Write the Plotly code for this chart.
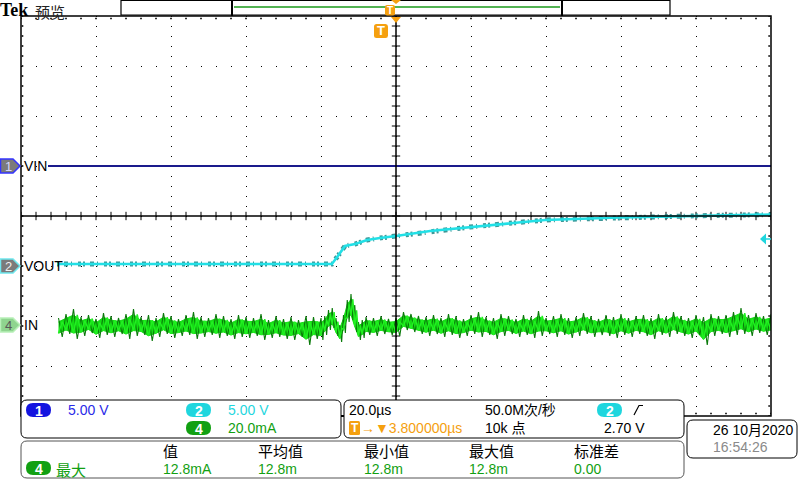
import numpy as np
import plotly.graph_objects as go

# time base in µs (20 µs/div, trigger at centre)
vin_t = [-92.8, 100.0]
vin_v = [0.0, 0.0]

vout_t = [-90.4, -17.1, -15.5, -13.6, -10.9, -7.7, -4.3, 0.0, 9.1, 19.7, 39.7, 59.7, 81.1, 100.0]
vout_v = [0.2, 0.2, 1.0, 2.0, 2.2, 2.6, 2.8, 3.0, 3.5, 3.9, 4.6, 4.85, 5.03, 5.15]

# input current (mA): upper / lower extremes of the noisy trace
in_t = [-90, -88, -86, -84, -82, -80, -78, -76, -74, -72, -70, -68, -66, -64, -62, -60, -58, -56,
        -54, -52, -50, -48, -46, -44, -42, -40, -38, -36, -34, -32, -30, -28, -26, -24, -22,
        -20, -19, -18, -17, -16, -15, -14, -13, -12, -11, -10, -9, -8,
        -6, -4, -2, 0, 2, 4, 6,
        8, 10, 12, 14, 16, 18, 20, 22, 24, 26, 28, 30, 32, 34, 36, 38, 40, 42, 44, 46, 48, 50,
        52, 54, 56, 58, 60, 62, 64, 66, 68, 70, 72, 74, 76, 78, 80, 82, 84, 86, 88, 90, 92, 94,
        96, 98, 100]
in_hi = [2.8, 4.4, 6.4, 3.2, 4.0, 2.4, 4.8, 3.6, 2.8, 4.4, 6.4, 3.2, 4.0, 2.8, 4.8, 3.6, 2.4, 4.0,
         5.2, 3.2, 2.8, 4.4, 3.6, 2.4, 4.0, 3.2, 2.8, 4.4, 2.0, 3.6, 2.4, 3.2, 2.0, 3.6, 3.2,
         2.8, 3.6, 6.0, 6.8, 2.8, 0.0, 4.0, 10.0, 12.4, 8.0, 1.2, 2.0, 3.2,
         2.8, 3.6, 2.4, 2.8, 5.2, 4.4, 3.6,
         3.2, 4.0, 2.8, 4.4, 3.6, 2.4, 4.0, 5.2, 3.2, 2.8, 4.4, 3.6, 2.4, 4.0, 3.2, 5.6, 2.8, 3.6,
         4.4, 2.8, 3.2, 4.8, 3.6, 2.4, 4.0, 3.2, 4.4, 2.8, 3.6, 4.0, 2.8, 4.4, 3.2, 5.2, 3.6, 2.8,
         4.0, 3.2, 4.4, 3.6, 4.0, 5.2, 6.8, 4.0, 4.8, 3.6, 4.4]
in_lo = [-4.8, -3.6, -5.6, -4.4, -3.2, -5.2, -4.0, -4.8, -3.6, -5.6, -4.4, -4.0, -6.4, -4.8, -3.6,
         -5.2, -4.4, -4.0, -5.6, -4.8, -4.0, -5.2, -4.4, -5.6, -4.8, -5.2, -4.4, -6.0, -5.2, -4.8,
         -5.6, -6.0, -4.8, -8.0, -5.6,
         -6.0, -4.0, -2.0, -1.2, -4.4, -6.8, -3.2, 1.2, 2.0, -2.8, -6.0, -5.2, -4.0,
         -4.4, -3.6, -4.0, -4.4, -2.0, -2.8, -3.6,
         -4.4, -3.6, -4.8, -4.0, -5.2, -4.4, -3.6, -4.8, -4.0, -5.6, -4.4, -3.6, -4.8, -4.0, -5.2,
         -4.4, -3.6, -4.8, -4.0, -5.2, -4.4, -3.6, -4.8, -4.0, -4.4, -5.2, -4.0, -4.8, -3.6, -4.4,
         -5.6, -4.0, -4.8, -3.6, -4.4, -5.2, -4.0, -8.0, -4.4, -3.6, -4.8, -4.0, -3.6, -4.4, -3.2,
         -4.0, -3.6]
assert len(in_t) == len(in_hi) == len(in_lo)

FONT = "Liberation Sans, Noto Sans CJK SC"
CJK = "Noto Sans CJK SC"
BLUE, CYAN, GREEN, ORANGE = "#1414e0", "#1fd6de", "#12a012", "#f5a00f"


def zigzag(t, hi, lo):
    xs, ys = [], []
    for i in range(len(t)):
        nxt = t[i + 1] if i + 1 < len(t) else t[i] + 1
        xs += [t[i], (t[i] + nxt) / 2]
        ys += [hi[i], lo[i]]
    return xs, ys


# pixel helpers for the screen furniture (plot area is x 21..771, y 16..416)
def px(x):
    return (x - 21) / 750


def py(y):
    return (416 - y) / 400


def path(points, close=True):
    s = "M " + " L ".join(f"{px(x):.5f},{py(y):.5f}" for x, y in points)
    return s + (" Z" if close else "")


def rrect(x0, y0, x1, y1, r):
    p = lambda x, y: f"{px(x):.5f},{py(y):.5f}"
    return (f"M {p(x0 + r, y0)} L {p(x1 - r, y0)} Q {p(x1, y0)} {p(x1, y0 + r)} "
            f"L {p(x1, y1 - r)} Q {p(x1, y1)} {p(x1 - r, y1)} L {p(x0 + r, y1)} "
            f"Q {p(x0, y1)} {p(x0, y1 - r)} L {p(x0, y0 + r)} Q {p(x0, y0)} {p(x0 + r, y0)} Z")


fig = go.Figure()

# graticule ticks
cx = np.arange(-100, 100.1, 4)
cy = np.arange(-4, 4.01, 0.2)
fig.add_trace(go.Scatter(x=cx, y=np.zeros_like(cx), mode="markers", hoverinfo="skip",
                         marker=dict(symbol="line-ns", size=6, line=dict(width=1, color="black"))))
fig.add_trace(go.Scatter(x=np.zeros_like(cy), y=cy, mode="markers", hoverinfo="skip",
                         marker=dict(symbol="line-ew", size=6, line=dict(width=1, color="black"))))
ex = list(cx) * 2 + [-99.6] * len(cy) + [99.5] * len(cy)
ey = [3.95] * len(cx) + [-3.95] * len(cx) + list(cy) * 2
fig.add_trace(go.Scatter(x=ex, y=ey, mode="markers", hoverinfo="skip",
                         marker=dict(symbol="square", size=1.6, color="black")))

# VIN
fig.add_trace(go.Scatter(x=vin_t, y=vin_v, yaxis="y2", mode="lines",
                         line=dict(color="#1a1a8c", width=2)))
# VOUT: dark speckle band under the bright trace
fig.add_trace(go.Scatter(x=vout_t, y=vout_v, yaxis="y3", mode="lines", opacity=0.85,
                         line=dict(color="#1d8585", width=5, dash="2px,5px,4px,3px,1px,6px,3px,2px")))
fig.add_trace(go.Scatter(x=vout_t, y=vout_v, yaxis="y3", mode="lines",
                         line=dict(color="#22e0e6", width=2.6)))
# IN
mid = [(h + l) / 2 for h, l in zip(in_hi, in_lo)]
core_hi = [m + (h - m) * 0.6 for m, h in zip(mid, in_hi)]
core_lo = [m + (l - m) * 0.6 for m, l in zip(mid, in_lo)]
fig.add_trace(go.Scatter(x=in_t, y=core_hi, yaxis="y4", mode="lines",
                         line=dict(color="#14dc14", width=1)))
fig.add_trace(go.Scatter(x=in_t, y=core_lo, yaxis="y4", mode="lines", fill="tonexty",
                         fillcolor="#14dc14", line=dict(color="#14dc14", width=1)))
zx, zy = zigzag(in_t, in_hi, in_lo)
fig.add_trace(go.Scatter(x=zx, y=zy, yaxis="y4", mode="lines",
                         line=dict(color="#0a7a0a", width=1.1)))
zx2, zy2 = zigzag(in_t, core_lo, core_hi)
fig.add_trace(go.Scatter(x=zx2, y=zy2, yaxis="y4", mode="lines",
                         line=dict(color="#22f022", width=1.4)))

shapes = [
    dict(type="line", xref="x", yref="y", x0=0, x1=0, y0=-4, y1=4, line=dict(color="black", width=1.5)),
    dict(type="line", xref="x", yref="y", x0=-100, x1=100, y0=0, y1=0, line=dict(color="black", width=1.5)),
    dict(type="rect", xref="paper", yref="paper", x0=0, x1=1, y0=0, y1=1, line=dict(color="black", width=1.5)),
]
ann = []


def txt(x, y, s, color="black", size=14, family=FONT, anchor="left", bold=False):
    if bold:
        s = f"<b>{s}</b>"
    ann.append(dict(xref="paper", yref="paper", x=px(x), y=py(y), text=s, showarrow=False,
                    xanchor=anchor, yanchor="middle", borderpad=0,
                    font=dict(family=family, size=size, color=color)))


def shp(p, fill, line="rgba(0,0,0,0)", width=1):
    shapes.append(dict(type="path", xref="paper", yref="paper", path=p, fillcolor=fill,
                       line=dict(color=line, width=width), layer="above"))


def pill(x0, y0, x1, y1, fill, label, tcolor="white"):
    shp(rrect(x0, y0, x1, y1, (y1 - y0) / 2), fill)
    txt((x0 + x1) / 2, (y0 + y1) / 2 + 0.5, label, tcolor, 14, anchor="center", bold=True)


# top status bar
txt(-1, 10, "Tek", "black", 18, "Liberation Serif", bold=True)
txt(34, 11, "预览", "#222222", 15, CJK)
shp(path([(121, 0.5), (670, 0.5), (670, 15), (121, 15)]), "white", "black", 1.2)
shp(path([(234, 7), (560, 7)], close=False), "rgba(0,0,0,0)", "#1a9a1a", 1.5)
shp(path([(232, 0), (232, 16)], close=False), "rgba(0,0,0,0)", "black", 2)
shp(path([(562, 0), (562, 16)], close=False), "rgba(0,0,0,0)", "black", 2)
shp(rrect(385, 5, 395, 15.5, 2), ORANGE)
txt(390, 10.5, "T", "white", 10, anchor="center", bold=True)
shp(path([(391, 0), (401, 0), (396, 4)]), ORANGE)

# trigger position marker in graticule
shp(path([(391, 17), (401, 17), (396, 23)]), ORANGE)
shp(rrect(374, 24, 388, 38, 2.5), ORANGE)
txt(381, 31, "T", "white", 13, anchor="center", bold=True)

# trigger level arrow (ch2)
shp(path([(760, 239), (766, 233.5), (766, 244.5)]), CYAN)
shp(path([(766, 239), (771, 239)], close=False), "rgba(0,0,0,0)", CYAN, 1.5)

# channel markers
for yc, fill, edge, lab, tcol, name in [
    (166, "#7b7b7b", "#3434ff", "1", "#d8d8ff", "VIN"),
    (266, "#7b7b7b", "#6fe8ee", "2", "#f0f0f0", "VOUT"),
    (325, "#8fd48f", "#b8f0b8", "4", "#5a5a5a", "IN"),
]:
    shp(path([(0.5, yc - 7), (13, yc - 7), (20, yc), (13, yc + 7), (0.5, yc + 7)]), fill, edge, 1.5)
    txt(8, yc + 0.5, lab, tcol, 13, anchor="center")
    txt(23, yc, name, "black", 14)

# bottom panels
shp(rrect(21, 400, 341, 438, 6), "white", "black", 1)
shp(rrect(344, 400, 684, 438, 6), "white", "black", 1)
shp(rrect(21, 441, 684, 478, 6), "white", "#555555", 1)
shp(rrect(687, 420, 797, 458, 6), "white", "black", 1)
shp(path([(341, 416), (344, 416)], close=False), "rgba(0,0,0,0)", "black", 2)

pill(26, 403, 51, 417, BLUE, "1")
txt(67, 410, "5.00 V", "#2a2ae8")
pill(186, 403, 211, 417, CYAN, "2")
txt(227, 410, "5.00 V", CYAN)
pill(186, 421, 211, 435, GREEN, "4")
txt(227, 428, "20.0mA", GREEN)

txt(348, 410, "20.0µs")
txt(484, 410, "50.0M次/秒")
pill(597, 403, 622, 417, CYAN, "2")
shp(path([(634, 415), (639, 405.5), (643, 405.5)], close=False), "rgba(0,0,0,0)", "black", 1.2)
shp(rrect(349, 421, 360, 435, 1.5), ORANGE)
txt(354.5, 428, "T", "white", 12, anchor="center", bold=True)
txt(360, 428, "→▼3.800000µs", ORANGE)
txt(484, 428, "10k 点")
txt(603, 428, "2.70 V")

for x, head, val in [(162, "值", "12.8mA"), (257, "平均值", "12.8m"), (363, "最小值", "12.8m"),
                     (468, "最大值", "12.8m"), (573, "标准差", "0.00")]:
    txt(x, 451, head, "black", 15, CJK)
    txt(x, 469, val, GREEN)
pill(26, 461, 51, 475, GREEN, "4")
txt(55, 469, "最大", GREEN, 15, CJK)

txt(712, 430, "26 10月2020")
txt(712, 447, "16:54:26", "#8a8a8a")

axis_off = dict(showticklabels=False, ticks="", zeroline=False, showline=False, showgrid=False,
                fixedrange=True)
fig.update_layout(
    width=800, height=480, margin=dict(l=21, r=29, t=16, b=64),
    paper_bgcolor="white", plot_bgcolor="white", showlegend=False,
    xaxis=dict(axis_off, range=[-100, 100], showgrid=True, dtick=20, tick0=0,
               gridcolor="black", gridwidth=1, griddash="1px,9px"),
    yaxis=dict(axis_off, range=[-4, 4], showgrid=True, dtick=1, tick0=0,
               gridcolor="black", gridwidth=1, griddash="1px,14px"),
    yaxis2=dict(axis_off, overlaying="y", range=[-25, 15]),
    yaxis3=dict(axis_off, overlaying="y", range=[-15, 25]),
    yaxis4=dict(axis_off, overlaying="y", range=[-36.4, 123.6]),
    shapes=shapes, annotations=ann,
)

# the page body has a default 8px margin; drop it so the figure sits at the window origin
fig.write_html("out.html", config={"displayModeBar": False},
               post_script="document.body.style.margin='0';")
